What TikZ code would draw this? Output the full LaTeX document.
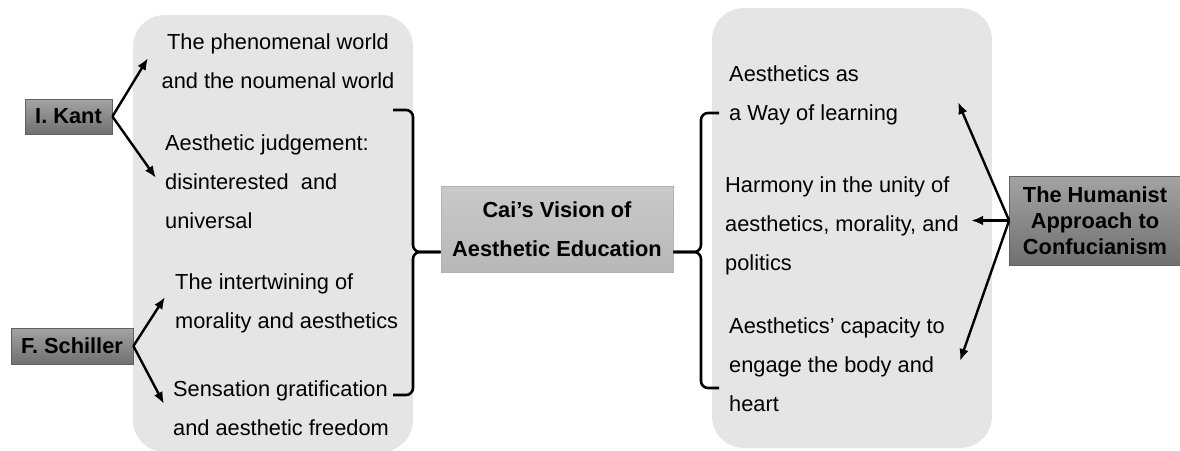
\documentclass[tikz,border=0pt]{standalone}
\usepackage{fontspec}
\setmainfont{Liberation Sans}
\usetikzlibrary{arrows.meta}
\tikzset{
	panel/.style={fill=black!10, draw=none, rounded corners=32pt},
	item/.style={anchor=base west, inner sep=0pt, align=left, font=\fontsize{21.8}{38.8}\selectfont},
	namebox/.style={draw=black!62, line width=0.8pt, top color=black!36, bottom color=black!56, inner sep=0pt, font=\fontsize{21.8}{26}\selectfont\bfseries, align=center},
	pointer/.style={line width=2.4pt, -{Latex[length=12pt,width=9.5pt]}},
	bracket/.style={line width=2.6pt, rounded corners=7pt}
}

\begin{document}
\begin{tikzpicture}[x=1pt, y=-1pt]
		%%%%% START %%%%%
		\useasboundingbox (0, 0) rectangle (1180, 450);
		
		\draw[panel] (133, 15) rectangle (413, 452);
		\draw[panel] (712, 8) rectangle (992, 448);
		
		% left column (placed by the baseline of the last line)
		\node[item, align=center, anchor=base] (phen) at (278, 88) {The phenomenal world\\and the noumenal world};
		\node[item] (judg) at (165, 228) {Aesthetic judgement:\\disinterested\ \ and\\universal};
		\node[item] (intw) at (175, 328) {The intertwining of\\morality and aesthetics};
		\node[item] (sens) at (173, 435) {Sensation gratification\\and aesthetic freedom};
		
		% right column
		\node[item] (way) at (729, 120) {Aesthetics as\\a Way of learning};
		\node[item] (harm) at (725, 270) {Harmony in the unity of\\aesthetics, morality, and\\politics};
		\node[item] (body) at (729, 411) {Aesthetics’ capacity to\\engage the body and\\heart};
		
		\node[namebox, minimum width=87pt, minimum height=35pt] (kant) at (68.5, 116.5) {I. Kant};
		\node[namebox, minimum width=122pt, minimum height=36pt] (schiller) at (72, 346) {F. Schiller};
		\node[namebox, top color=black!21, bottom color=black!28, draw=black!30, minimum width=232pt, minimum height=86pt, font=\fontsize{21.8}{39}\selectfont\bfseries] (cai) at (557, 229) {Cai’s Vision of\\Aesthetic Education};
		\node[namebox, minimum width=171pt, minimum height=89pt] (confu) at (1095, 220.5) {The Humanist\\Approach to\\Confucianism};
		
		% arrow ends
		\coordinate (k1) at (148, 58);
		\coordinate (k2) at (156, 178);
		\coordinate (s1) at (165, 297);
		\coordinate (s2) at (164, 404);
		\coordinate (c1) at (958, 102);
		\coordinate (c2) at (971, 220.5);
		\coordinate (c3) at (960, 361);
		
		\draw[pointer] (kant.east) -- (k1);
		\draw[pointer] (kant.east) -- (k2);
		\draw[pointer] (schiller.east) -- (s1);
		\draw[pointer] (schiller.east) -- (s2);
		\draw[pointer] (confu.west) -- (c1);
		\draw[pointer] (confu.west) -- (c2);
		\draw[pointer] (confu.west) -- (c3);
		
		% brackets on both sides of the centre box, tips at its second line
		\draw[bracket] (393, 110) -- (413, 110) -- (413, 252) -- ([yshift=-23pt]cai.west);
		\draw[bracket] (393, 395) -- (413, 395) -- (413, 252) -- ([yshift=-23pt]cai.west);
		\draw[bracket] (719, 113) -- (701, 113) -- (701, 252) -- ([yshift=-23pt]cai.east);
		\draw[bracket] (719, 388) -- (701, 388) -- (701, 252) -- ([yshift=-23pt]cai.east);
		
		%%%%% END %%%%%
	\end{tikzpicture}
\end{document}
